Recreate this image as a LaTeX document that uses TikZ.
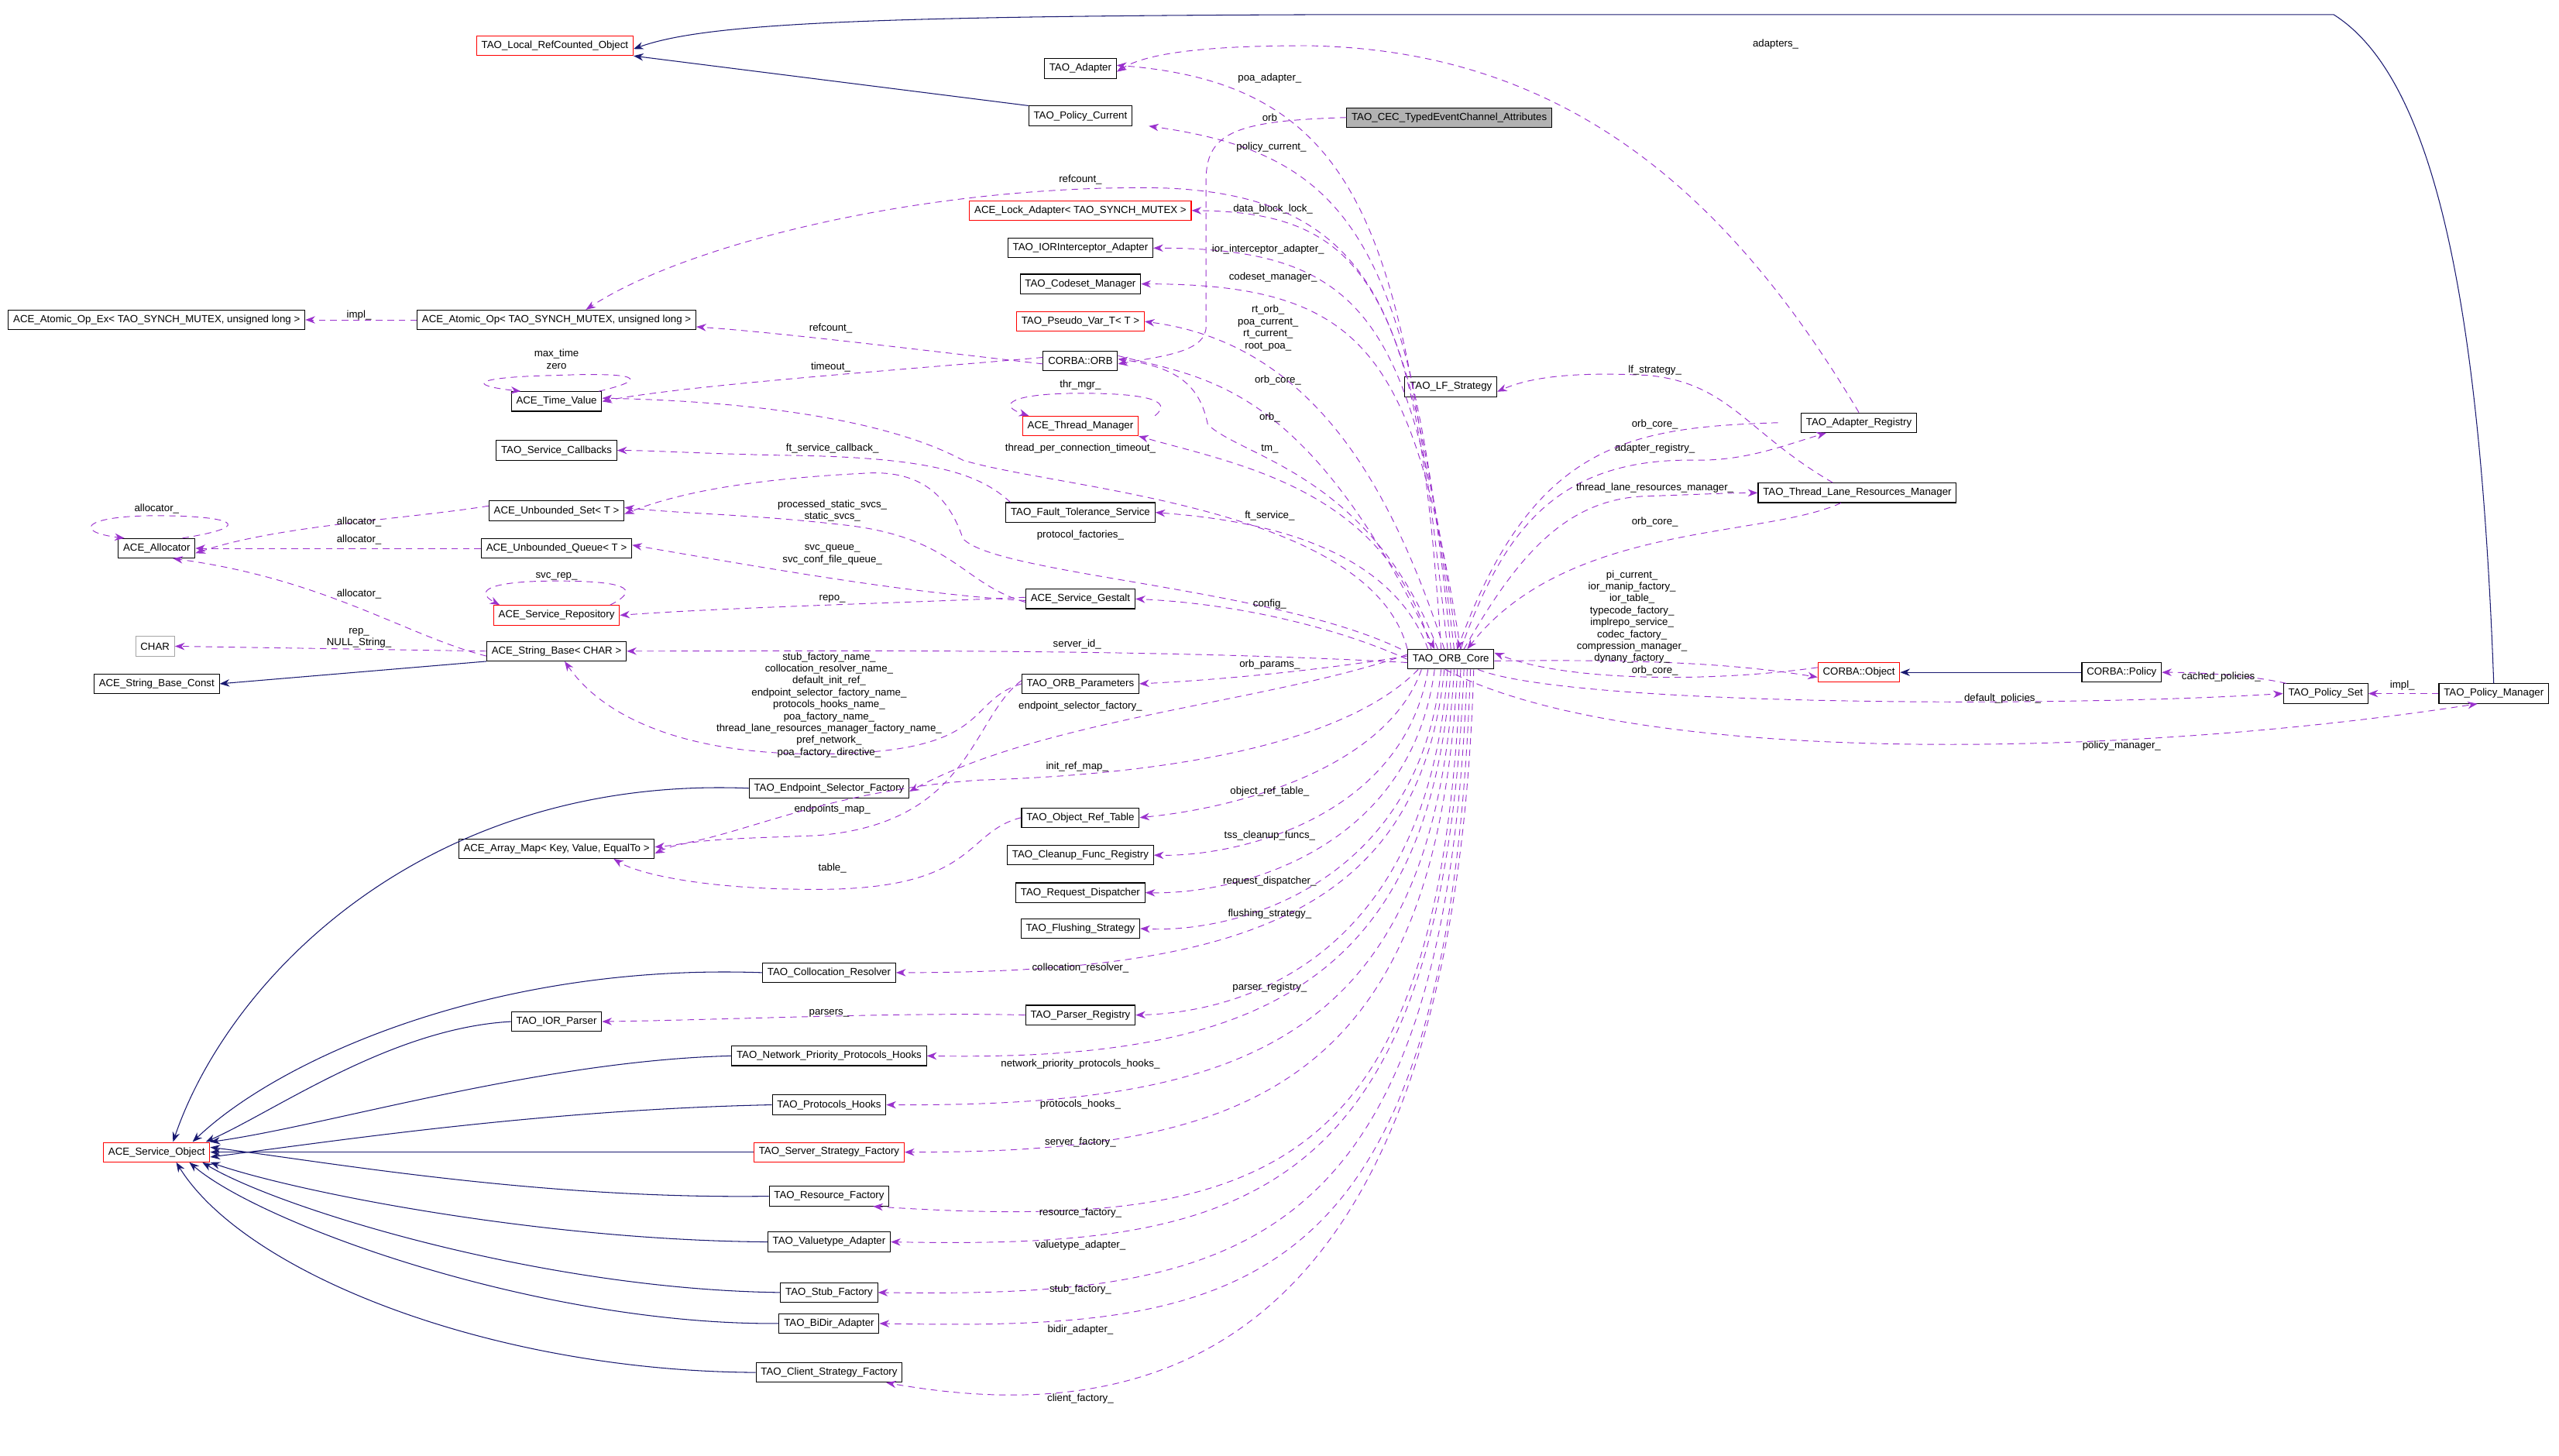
\documentclass[tikz,border=0pt]{standalone}
\usepackage{fontspec}
\setmainfont{Liberation Sans}
\usetikzlibrary{arrows.meta,calc}
\definecolor{dpur}{HTML}{9A32CD}
\definecolor{navy}{HTML}{191970}
\begin{document}
\begin{tikzpicture}[x=1pt,y=-1pt,
 cls/.style={draw=black,line width=0.5pt,fill=white,inner xsep=3pt,inner ysep=0pt,minimum height=12pt,font=\fontsize{6.3}{7}\selectfont},
 rcls/.style={cls,draw=red},
 gcls/.style={cls,draw=black!35},
 lbl/.style={font=\fontsize{6.3}{7.3}\selectfont,align=center,inner sep=0pt},
 dep/.style={draw=dpur,line width=0.45pt,dash pattern=on 4pt off 3pt,-{Stealth[length=6pt,width=4.5pt]}},
 inh/.style={draw=navy,line width=0.5pt,-{Stealth[length=6pt,width=4.5pt]}}]
\useasboundingbox (0,0) rectangle (1568,892);
% nodes
\node[rcls] (lrc) at (340,28) {TAO\_Local\_RefCounted\_Object};
\node[cls] (ta) at (662,42) {TAO\_Adapter};
\node[cls,fill=black!30] (cec) at (888,72) {TAO\_CEC\_TypedEventChannel\_Attributes};
\node[cls] (pc) at (662,71) {TAO\_Policy\_Current};
\node[rcls] (la) at (662,129) {ACE\_Lock\_Adapter< TAO\_SYNCH\_MUTEX >};
\node[cls] (ior) at (662,152) {TAO\_IORInterceptor\_Adapter};
\node[cls] (cm) at (662,174) {TAO\_Codeset\_Manager};
\node[rcls] (pv) at (662,197) {TAO\_Pseudo\_Var\_T< T >};
\node[cls] (orb) at (662,221) {CORBA::ORB};
\node[rcls] (tmg) at (662,261) {ACE\_Thread\_Manager};
\node[cls] (lf) at (889,237) {TAO\_LF\_Strategy};
\node[cls] (ar) at (1139,259) {TAO\_Adapter\_Registry};
\node[cls] (tl) at (1138,302) {TAO\_Thread\_Lane\_Resources\_Manager};
\node[cls] (aox) at (96,196) {ACE\_Atomic\_Op\_Ex< TAO\_SYNCH\_MUTEX, unsigned long >};
\node[cls] (ao) at (341,196) {ACE\_Atomic\_Op< TAO\_SYNCH\_MUTEX, unsigned long >};
\node[cls] (tv) at (341,246) {ACE\_Time\_Value};
\node[cls] (sc) at (341,276) {TAO\_Service\_Callbacks};
\node[cls] (us) at (341,313) {ACE\_Unbounded\_Set< T >};
\node[cls] (al) at (96,336) {ACE\_Allocator};
\node[cls] (uq) at (341,336) {ACE\_Unbounded\_Queue< T >};
\node[rcls] (sr) at (341,377) {ACE\_Service\_Repository};
\node[gcls] (ch) at (95,396) {CHAR};
\node[cls] (sb) at (341,399) {ACE\_String\_Base< CHAR >};
\node[cls] (sbc) at (96,419) {ACE\_String\_Base\_Const};
\node[cls] (ft) at (662,314) {TAO\_Fault\_Tolerance\_Service};
\node[cls] (sg) at (662,367) {ACE\_Service\_Gestalt};
\node[cls] (core) at (889,404) {TAO\_ORB\_Core};
\node[rcls] (obj) at (1139,412) {CORBA::Object};
\node[cls] (pol) at (1300,412) {CORBA::Policy};
\node[cls] (ps) at (1425,425) {TAO\_Policy\_Set};
\node[cls] (pm) at (1528,425) {TAO\_Policy\_Manager};
\node[cls] (op) at (662,419) {TAO\_ORB\_Parameters};
\node[cls] (esf) at (508,483) {TAO\_Endpoint\_Selector\_Factory};
\node[cls] (am) at (341,520) {ACE\_Array\_Map< Key, Value, EqualTo >};
\node[cls] (ort) at (662,501) {TAO\_Object\_Ref\_Table};
\node[cls] (cfr) at (662,524) {TAO\_Cleanup\_Func\_Registry};
\node[cls] (rd) at (662,547) {TAO\_Request\_Dispatcher};
\node[cls] (fs) at (662,569) {TAO\_Flushing\_Strategy};
\node[cls] (cr) at (508,596) {TAO\_Collocation\_Resolver};
\node[cls] (iorp) at (341,626) {TAO\_IOR\_Parser};
\node[cls] (prr) at (662,622) {TAO\_Parser\_Registry};
\node[cls] (npp) at (508,647) {TAO\_Network\_Priority\_Protocols\_Hooks};
\node[cls] (ph) at (508,677) {TAO\_Protocols\_Hooks};
\node[rcls] (so) at (96,706) {ACE\_Service\_Object};
\node[rcls] (ssf) at (508,706) {TAO\_Server\_Strategy\_Factory};
\node[cls] (rf) at (508,733) {TAO\_Resource\_Factory};
\node[cls] (va) at (508,761) {TAO\_Valuetype\_Adapter};
\node[cls] (stf) at (508,792) {TAO\_Stub\_Factory};
\node[cls] (bd) at (508,811) {TAO\_BiDir\_Adapter};
\node[cls] (csf) at (508,841) {TAO\_Client\_Strategy\_Factory};
% inheritance
\draw[inh] (pc.north west) -- (lrc.south east);
\draw[inh] (pm.north) .. controls (1520,200) and (1495,50) .. (1430,9) -- (800,9) .. controls (520,10) and (430,15) .. ([yshift=-2]lrc.east);
\draw[inh] (sb.south west) -- (sbc.east);
\draw[inh] (pol.west) -- (obj.east);
\draw[inh] (esf.west) .. controls (260,475) and (140,600) .. ([xshift=10]so.north);
\draw[inh] (cr.west) .. controls (300,590) and (170,650) .. ([xshift=22]so.north);
\draw[inh] (iorp.west) .. controls (240,630) and (170,680) .. ([xshift=30]so.north);
\draw[inh] (npp.west) .. controls (330,650) and (200,690) .. (so.north east);
\draw[inh] (ph.west) .. controls (330,680) and (200,700) .. ([yshift=-3]so.east);
\draw[inh] (ssf.west) -- (so.east);
\draw[inh] (rf.west) .. controls (330,735) and (200,712) .. ([yshift=3]so.east);
\draw[inh] (va.west) .. controls (330,760) and (180,730) .. (so.south east);
\draw[inh] (stf.west) .. controls (330,790) and (170,740) .. ([xshift=28]so.south);
\draw[inh] (bd.west) .. controls (330,812) and (160,750) .. ([xshift=20]so.south);
\draw[inh] (csf.west) .. controls (300,840) and (150,780) .. ([xshift=12]so.south);
% top area dependencies
\draw[dep] (ar.north) .. controls (1060,120) and (960,30) .. (800,28) .. controls (730,28) and (700,34) .. ([yshift=-2]ta.east);
\node[lbl] at (1088,27) {adapters\_};
\draw[dep] ([xshift=-2]core.north) .. controls (860,150) and (840,52) .. ([yshift=2]ta.east);
\node[lbl] at (778,48) {poa\_adapter\_};
\draw[dep] (cec.west) .. controls (760,74) and (739,80) .. (739,110) -- (739,200) .. controls (739,215) and (715,218) .. ([yshift=-2]orb.east);
\node[lbl] at (778,72) {orb};
\draw[dep] ([xshift=0]core.north) .. controls (865,150) and (830,95) .. ([xshift=10]pc.south east);
\node[lbl] at (779,90) {policy\_current\_};
\draw[dep] ([xshift=2]core.north) .. controls (865,180) and (840,130) .. (la.east);
\node[lbl] at (780,128) {data\_block\_lock\_};
\draw[dep] ([xshift=4]core.north) .. controls (866,200) and (840,152) .. (ior.east);
\node[lbl] at (777,153) {ior\_interceptor\_adapter\_};
\draw[dep] ([xshift=6]core.north) .. controls (866,220) and (840,174) .. (cm.east);
\node[lbl] at (780,170) {codeset\_manager\_};
\draw[dep] ([xshift=-4]core.north) .. controls (850,290) and (800,210) .. (pv.east);
\node[lbl] at (777,201) {rt\_orb\_\\poa\_current\_\\rt\_current\_\\root\_poa\_};
\draw[dep] ([xshift=-6]core.north) .. controls (870,200) and (850,115) .. (700,115) .. controls (560,115) and (420,150) .. ([xshift=18]ao.north);
\node[lbl] at (662,110) {refcount\_};
\draw[dep] ([yshift=-2]orb.west) .. controls (560,214) and (480,204) .. ([yshift=2]ao.south east);
\node[lbl] at (509,201) {refcount\_};
\draw[dep] (ao.west) -- (aox.east);
\node[lbl] at (220,193) {impl\_};
\draw[dep] ([yshift=2]orb.west) .. controls (560,226) and (420,236) .. (tv.east);
\node[lbl] at (509,225) {timeout\_};
\draw[dep] ([xshift=-2]tv.north east) .. controls (400,232) and (390,228) .. (341,230) .. controls (290,231) and (285,236) .. ([xshift=6]tv.north west);
\node[lbl] at (341,220) {max\_time\\zero};
\draw[dep] ([yshift=3]orb.east) .. controls (740,232) and (800,235) .. ([xshift=-10]core.north);
\node[lbl] at (783,233) {orb\_core\_};
\draw[dep] ([xshift=-8]core.north) .. controls (840,290) and (760,280) .. (740,260) .. controls (735,235) and (720,225) .. ([yshift=1]orb.east);
\node[lbl] at (778,256) {orb\_};
\draw[dep] ([xshift=10]tmg.north east) .. controls (720,245) and (700,241) .. (662,241) .. controls (620,241) and (610,248) .. ([xshift=4]tmg.north west);
\node[lbl] at (662,236) {thr\_mgr\_};
\draw[dep] ([xshift=-12]core.north) .. controls (850,300) and (760,285) .. (tmg.south east);
\node[lbl] at (778,275) {tm\_};
\draw[dep] (core.north west) .. controls (840,310) and (650,300) .. (590,282) .. controls (530,250) and (420,245) .. ([yshift=2]tv.east);
\node[lbl] at (662,275) {thread\_per\_connection\_timeout\_};
\draw[dep] ([xshift=3]ft.north west) .. controls (600,290) and (570,280) .. (480,279) .. controls (430,278) and (400,276) .. (sc.east);
\node[lbl] at (510,275) {ft\_service\_callback\_};
\draw[dep] ([xshift=-14]core.north) .. controls (850,330) and (760,318) .. (ft.east);
\node[lbl] at (778,316) {ft\_service\_};
% gestalt area
\draw[dep] ([yshift=-2]sg.west) .. controls (590,358) and (585,330) .. (520,322) .. controls (460,315) and (420,315) .. ([yshift=2]us.east);
\node[lbl] at (510,313) {processed\_static\_svcs\_\\static\_svcs\_};
\draw[dep] ([xshift=-4]core.north west) .. controls (780,360) and (610,352) .. (590,330) .. controls (580,300) and (560,288) .. (530,290) .. controls (470,293) and (420,300) .. ([yshift=-2]us.east);
\node[lbl] at (662,328) {protocol\_factories\_};
\draw[dep] ([yshift=-1]sg.west) .. controls (560,364) and (480,350) .. ([yshift=2]uq.east);
\node[lbl] at (510,340) {svc\_queue\_\\svc\_conf\_file\_queue\_};
\draw[dep] ([yshift=1]sg.west) .. controls (540,370) and (450,372) .. (sr.east);
\node[lbl] at (510,367) {repo\_};
\draw[dep] (core.west) .. controls (820,385) and (760,370) .. (sg.east);
\node[lbl] at (778,370) {config\_};
\draw[dep] ([xshift=-6]sr.north east) .. controls (395,360) and (380,356) .. (341,356) .. controls (300,356) and (290,362) .. ([xshift=4]sr.north west);
\node[lbl] at (341,353) {svc\_rep\_};
\draw[dep] ([yshift=3]us.west) .. controls (250,318) and (170,322) .. ([yshift=-3]al.east);
\node[lbl] at (220,320) {allocator\_};
\draw[dep] (uq.west) -- (al.east);
\node[lbl] at (220,331) {allocator\_};
\draw[dep] ([xshift=-8]al.north east) .. controls (160,322) and (140,316) .. (96,316) .. controls (50,316) and (45,326) .. ([xshift=4]al.north west);
\node[lbl] at (96,312) {allocator\_};
\draw[dep] ([yshift=-3]sb.west) .. controls (250,390) and (200,355) .. ([xshift=10]al.south);
\node[lbl] at (220,364) {allocator\_};
\draw[dep] ([yshift=0]sb.west) -- (ch.east);
\node[lbl] at (220,391) {rep\_\\NULL\_String\_};
\draw[dep] ([yshift=-2]core.west) .. controls (700,397) and (500,399) .. (sb.east);
\node[lbl] at (660,395) {server\_id\_};
\draw[dep] ([yshift=2]core.west) .. controls (800,412) and (740,417) .. (op.east);
\node[lbl] at (778,407) {orb\_params\_};
\draw[dep] (op.west) .. controls (590,430) and (610,462) .. (500,462) .. controls (420,462) and (370,440) .. ([xshift=5]sb.south);
\node[lbl] at (508,432) {stub\_factory\_name\_\\collocation\_resolver\_name\_\\default\_init\_ref\_\\endpoint\_selector\_factory\_name\_\\protocols\_hooks\_name\_\\poa\_factory\_name\_\\thread\_lane\_resources\_manager\_factory\_name\_\\pref\_network\_\\poa\_factory\_directive\_};
\draw[dep] ([yshift=3]core.west) .. controls (780,430) and (640,440) .. ([yshift=-2]esf.east);
\node[lbl] at (662,433) {endpoint\_selector\_factory\_};
\draw[dep] ([yshift=2]op.west) .. controls (595,440) and (595,505) .. (500,512) .. controls (450,514) and (420,514) .. ([yshift=-3]am.east);
\node[lbl] at (510,496) {endpoints\_map\_};
\draw[dep] ([xshift=-20]core.south) .. controls (820,460) and (700,475) .. (600,478) .. controls (500,485) and (450,515) .. ([yshift=1]am.east);
\node[lbl] at (660,470) {init\_ref\_map\_};
\draw[dep] (ort.west) .. controls (590,510) and (600,545) .. (500,545) .. controls (430,545) and (390,535) .. ([xshift=35]am.south);
\node[lbl] at (510,532) {table\_};
% right side
\draw[dep] ([xshift=-14]ar.west) .. controls (1000,262) and (940,270) .. ([xshift=4]core.north);
\node[lbl] at (1014,260) {orb\_core\_};
\draw[dep] ([xshift=6]core.north) .. controls (920,330) and (950,280) .. (1040,282) .. controls (1070,282) and (1090,274) .. ([xshift=-20]ar.south);
\node[lbl] at (1014,275) {adapter\_registry\_};
\draw[dep] ([xshift=8]core.north) .. controls (930,340) and (960,305) .. (1010,304) .. controls (1040,303) and (1060,302) .. (tl.west);
\node[lbl] at (1014,299) {thread\_lane\_resources\_manager\_};
\draw[dep] ([xshift=-10]tl.south) .. controls (1080,330) and (960,320) .. ([xshift=10]core.north);
\node[lbl] at (1014,320) {orb\_core\_};
\draw[dep] ([xshift=-15]tl.north) .. controls (1070,265) and (1060,235) .. (1010,230) .. controls (970,228) and (940,230) .. ([yshift=-3]lf.east);
\node[lbl] at (1014,227) {lf\_strategy\_};
\draw[dep] ([yshift=-1]core.east) .. controls (1000,404) and (1060,406) .. ([yshift=-3]obj.west);
\node[lbl] at (1000,378) {pi\_current\_\\ior\_manip\_factory\_\\ior\_table\_\\typecode\_factory\_\\implrepo\_service\_\\codec\_factory\_\\compression\_manager\_\\dynany\_factory\_};
\draw[dep] ([yshift=3]obj.west) .. controls (1050,418) and (960,418) .. ([yshift=4]core.east);
\node[lbl] at (1014,411) {orb\_core\_};
\draw[dep] ([xshift=-10]core.south east) .. controls (960,432) and (1250,434) .. (ps.west);
\node[lbl] at (1227,428) {default\_policies\_};
\draw[dep] ([xshift=-30]core.south east) .. controls (1000,470) and (1300,465) .. ([xshift=-10]pm.south);
\node[lbl] at (1300,457) {policy\_manager\_};
\draw[dep] (pm.west) -- (ps.east);
\node[lbl] at (1472,420) {impl\_};
\draw[dep] ([xshift=2]ps.north west) .. controls (1380,414) and (1350,412) .. (pol.east);
\node[lbl] at (1361,415) {cached\_policies\_};
% bottom area
\draw[dep] ([xshift=-18]core.south) .. controls (850,470) and (760,495) .. (ort.east);
\node[lbl] at (778,485) {object\_ref\_table\_};
\draw[dep] ([xshift=-14]core.south) .. controls (860,500) and (760,525) .. (cfr.east);
\node[lbl] at (778,512) {tss\_cleanup\_funcs\_};
\draw[dep] ([xshift=-10]core.south) .. controls (865,520) and (760,548) .. (rd.east);
\node[lbl] at (778,540) {request\_dispatcher\_};
\draw[dep] ([xshift=-6]core.south) .. controls (870,540) and (760,572) .. (fs.east);
\node[lbl] at (778,560) {flushing\_strategy\_};
\draw[dep] ([xshift=-4]core.south) .. controls (870,560) and (760,596) .. (cr.east);
\node[lbl] at (662,593) {collocation\_resolver\_};
\draw[dep] ([xshift=-2]core.south) .. controls (875,580) and (770,620) .. (prr.east);
\node[lbl] at (778,605) {parser\_registry\_};
\draw[dep] (prr.west) .. controls (560,620) and (440,625) .. (iorp.east);
\node[lbl] at (508,621) {parsers\_};
\draw[dep] ([xshift=0]core.south) .. controls (875,610) and (760,650) .. (npp.east);
\node[lbl] at (662,652) {network\_priority\_protocols\_hooks\_};
\draw[dep] ([xshift=2]core.south) .. controls (878,640) and (760,678) .. (ph.east);
\node[lbl] at (662,677) {protocols\_hooks\_};
\draw[dep] ([xshift=4]core.south) .. controls (880,670) and (760,706) .. (ssf.east);
\node[lbl] at (662,700) {server\_factory\_};
\draw[dep] ([xshift=6]core.south) .. controls (882,720) and (780,755) .. ([xshift=-10]rf.south east);
\node[lbl] at (662,743) {resource\_factory\_};
\draw[dep] ([xshift=8]core.south) .. controls (884,740) and (760,765) .. (va.east);
\node[lbl] at (662,763) {valuetype\_adapter\_};
\draw[dep] ([xshift=10]core.south) .. controls (886,770) and (760,795) .. (stf.east);
\node[lbl] at (662,790) {stub\_factory\_};
\draw[dep] ([xshift=12]core.south) .. controls (888,800) and (760,815) .. (bd.east);
\node[lbl] at (662,815) {bidir\_adapter\_};
\draw[dep] ([xshift=14]core.south) .. controls (890,840) and (700,875) .. ([xshift=-10]csf.south east);
\node[lbl] at (662,857) {client\_factory\_};
\end{tikzpicture}
\end{document}
